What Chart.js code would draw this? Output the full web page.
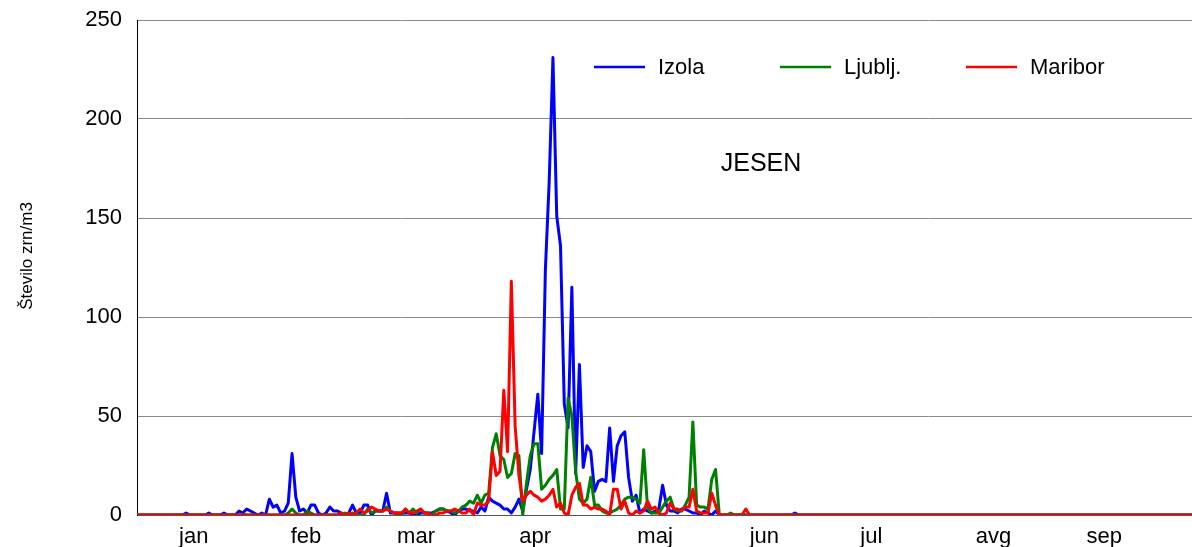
<!DOCTYPE html>
<html>
<head>
<meta charset="utf-8">
<title>JESEN – Izola, Ljubljana, Maribor</title>
<script src="https://cdn.jsdelivr.net/npm/chart.js@4/dist/chart.umd.min.js"></script>
<style>
  html, body { margin: 0; padding: 0; background: #ffffff; }
  #wrap { width: 1192px; height: 547px; }
</style>
</head>
<body>
<div id="wrap"><canvas id="c" width="1192" height="547"></canvas></div>
<script>
// Daily ash (jesen) pollen counts, grains per m3, from 1 January (day 1) to 7 October (day 280)
const seriesNames = ['Izola', 'Ljublj.', 'Maribor'];
const chartTitle = 'JESEN';
const yAxisTitle = 'Število zrn/m3';
const monthLabels = ['jan', 'feb', 'mar', 'apr', 'maj', 'jun', 'jul', 'avg', 'sep'];
// day of year where each month name is placed
const monthLabelDays = [16, 45.7, 74.8, 106.3, 138, 166.9, 195.2, 227.5, 256.8];
const yTicks = [0, 50, 100, 150, 200, 250];

const izola = [
  // jan
  0,0,0,0,0,0,0,0,0,0,0,0,0,1,0,0,0,0,0,1,0,0,0,1,0,0,0,2,1,3,2,
  // feb
  1,0,1,0,8,4,5,1,2,6,31,9,2,3,1,5,5,1,0,1,4,2,2,1,0,1,5,1,
  // mar
  1,5,5,0,2,2,2,11,1,1,1,1,1,1,0,0,1,1,1,1,2,3,3,2,1,0,2,3,3,2,2,
  // apr
  1,4,2,9,7,6,5,3,3,1,4,8,2,13,23,42,61,31,124,168,231,151,136,56,44,115,21,76,24,35,
  // maj
  32,12,17,18,17,44,17,35,40,42,19,7,10,1,3,2,1,2,3,15,5,2,2,1,3,3,2,1,1,0,2,
  // jun
  1,0,2,0,0,0,0,0,0,0,0,0,0,0,0,0,0,0,0,0,0,0,0,1,0,0,0,0,0,0,
  // jul
  0,0,0,0,0,0,0,0,0,0,0,0,0,0,0,0,0,0,0,0,0,0,0,0,0,0,0,0,0,0,0,
  // avg
  0,0,0,0,0,0,0,0,0,0,0,0,0,0,0,0,0,0,0,0,0,0,0,0,0,0,0,0,0,0,0,
  // sep
  0,0,0,0,0,0,0,0,0,0,0,0,0,0,0,0,0,0,0,0,0,0,0,0,0,0,0,0,0,0,
  // okt
  0,0,0,0,0,0,0
];

const ljubljana = [
  // jan
  0,0,0,0,0,0,0,0,0,0,0,0,0,0,0,0,0,0,0,0,0,0,0,0,0,0,0,0,0,0,0,
  // feb
  0,0,0,0,0,0,0,0,0,1,3,1,0,0,2,1,0,0,0,0,0,0,0,0,1,0,1,0,
  // mar
  0,0,3,1,2,2,2,4,2,1,0,0,3,1,3,1,3,1,1,0,2,3,3,2,2,1,2,4,5,7,6,
  // apr
  10,6,10,11,34,41,30,28,19,21,31,30,0,16,30,36,36,13,15,18,20,23,3,3,59,50,22,8,6,8,
  // maj
  19,5,5,2,1,1,2,3,5,8,9,9,8,6,33,4,1,1,1,4,7,9,3,2,2,5,9,47,5,4,4,
  // jun
  3,18,23,0,0,0,1,0,0,0,0,0,0,0,0,0,0,0,0,0,0,0,0,0,0,0,0,0,0,0,
  // jul
  0,0,0,0,0,0,0,0,0,0,0,0,0,0,0,0,0,0,0,0,0,0,0,0,0,0,0,0,0,0,0,
  // avg
  0,0,0,0,0,0,0,0,0,0,0,0,0,0,0,0,0,0,0,0,0,0,0,0,0,0,0,0,0,0,0,
  // sep
  0,0,0,0,0,0,0,0,0,0,0,0,0,0,0,0,0,0,0,0,0,0,0,0,0,0,0,0,0,0,
  // okt
  0,0,0,0,0,0,0
];

const maribor = [
  // jan
  0,0,0,0,0,0,0,0,0,0,0,0,0,0,0,0,0,0,0,0,0,0,0,0,0,0,0,0,0,0,0,
  // feb
  0,0,0,0,0,0,0,0,0,0,0,0,0,0,0,0,0,0,0,0,0,0,0,1,0,1,0,1,
  // mar
  3,1,2,4,3,2,2,3,2,1,1,1,3,1,1,2,3,1,1,0,0,1,1,2,2,3,2,1,1,3,0,
  // apr
  6,5,5,7,32,20,22,63,32,118,45,20,7,10,12,10,9,7,8,10,13,4,6,1,0,10,14,16,5,5,
  // maj
  3,4,3,3,2,0,13,13,3,7,1,0,2,1,2,7,3,4,1,0,1,6,3,3,2,4,4,13,2,1,1,
  // jun
  1,11,5,0,0,0,0,0,0,0,3,0,0,0,0,0,0,0,0,0,0,0,0,0,0,0,0,0,0,0,
  // jul
  0,0,0,0,0,0,0,0,0,0,0,0,0,0,0,0,0,0,0,0,0,0,0,0,0,0,0,0,0,0,0,
  // avg
  0,0,0,0,0,0,0,0,0,0,0,0,0,0,0,0,0,0,0,0,0,0,0,0,0,0,0,0,0,0,0,
  // sep
  0,0,0,0,0,0,0,0,0,0,0,0,0,0,0,0,0,0,0,0,0,0,0,0,0,0,0,0,0,0,
  // okt
  0,0,0,0,0,0,0
];

const FONT = "'Liberation Sans', Arial, Helvetica, sans-serif";
const toPoints = arr => arr.map((v, i) => ({ x: i + 1, y: v }));

// Legend row and title drawn inside the plot area
const annotate = {
  id: 'annotate',
  afterDraw(chart) {
    const ctx = chart.ctx;
    ctx.save();
    // legend: short line + series name
    const legendX = [594, 780, 966];
    const legendY = 67;
    chart.data.datasets.forEach((ds, i) => {
      const x = legendX[i];
      ctx.strokeStyle = ds.borderColor;
      ctx.lineWidth = 2.5;
      ctx.beginPath();
      ctx.moveTo(x, legendY);
      ctx.lineTo(x + 51, legendY);
      ctx.stroke();
      ctx.fillStyle = '#000';
      ctx.font = '22px ' + FONT;
      ctx.textAlign = 'left';
      ctx.textBaseline = 'middle';
      ctx.fillText(ds.label, x + 64, legendY + 1);
    });
    // chart title
    ctx.font = '25px ' + FONT;
    ctx.textAlign = 'center';
    ctx.textBaseline = 'middle';
    ctx.fillText(chartTitle, 761, 164);
    // y axis title
    ctx.translate(27, 256);
    ctx.rotate(-Math.PI / 2);
    ctx.font = '17px ' + FONT;
    ctx.fillText(yAxisTitle, 0, 0);
    ctx.restore();
  }
};

new Chart(document.getElementById('c'), {
  type: 'line',
  data: {
    datasets: [
      { label: seriesNames[0], data: toPoints(izola), borderColor: '#0000ff', order: 3 },
      { label: seriesNames[1], data: toPoints(ljubljana), borderColor: '#008000', order: 2 },
      { label: seriesNames[2], data: toPoints(maribor), borderColor: '#ff0000', order: 1 }
    ]
  },
  options: {
    responsive: false,
    devicePixelRatio: 1,
    animation: false,
    layout: { padding: { top: 20, left: 0, right: 0, bottom: 0 } },
    elements: {
      line: { borderWidth: 3, tension: 0, borderJoinStyle: 'round', borderCapStyle: 'round' },
      point: { radius: 0, hoverRadius: 0 }
    },
    plugins: {
      legend: { display: false },
      tooltip: { enabled: false }
    },
    scales: {
      x: {
        type: 'linear',
        min: 1,
        max: 280,
        afterFit(scale) {
          scale.height = 32;
          scale.paddingLeft = 0;
          scale.paddingRight = 0;
        },
        afterBuildTicks(scale) { scale.ticks = monthLabelDays.map(v => ({ value: v })); },
        grid: { display: false, drawTicks: false },
        border: { display: true, color: '#555555', width: 1 },
        ticks: {
          autoSkip: false,
          maxRotation: 0,
          padding: 9,
          color: '#000',
          font: { family: FONT, size: 22 },
          callback: (v, i) => monthLabels[i]
        }
      },
      y: {
        min: 0,
        max: 250,
        afterFit(scale) {
          scale.width = 137;
          scale.paddingTop = 0;
          scale.paddingBottom = 0;
        },
        afterBuildTicks(scale) { scale.ticks = yTicks.map(v => ({ value: v })); },
        grid: { color: '#8a8a8a', lineWidth: 1, drawTicks: false },
        border: { display: true, color: '#000000', width: 1 },
        ticks: {
          padding: 15,
          color: '#000',
          font: { family: FONT, size: 22 }
        }
      }
    }
  },
  plugins: [annotate]
});
</script>
</body>
</html>
